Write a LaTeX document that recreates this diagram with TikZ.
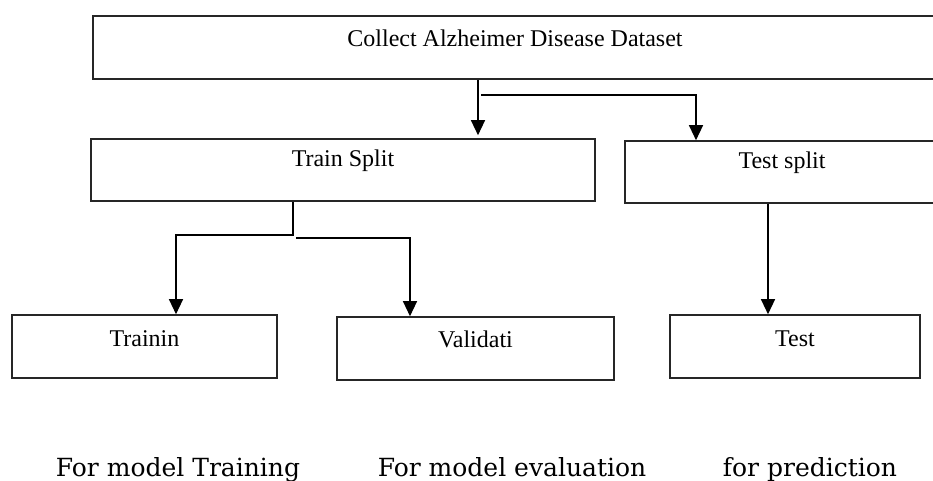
\documentclass[tikz,border=0pt]{standalone}
\usepackage{fontspec}
\setmainfont{Liberation Serif}
\newfontfamily\labelfont{DejaVu Serif}
\usetikzlibrary{arrows.meta}
\tikzset{
  boxnode/.style={draw=black!85, line width=1.6pt, inner sep=0pt, text height=16pt,
    font=\fontsize{24}{28}\selectfont},
  conn/.style={draw=black, line width=1.3pt},
  arr/.style={conn, -{Triangle[width=14pt,length=15pt]}},
  caption/.style={anchor=base, inner sep=0pt, font=\labelfont\fontsize{25}{29}\selectfont}
}
\begin{document}
\begin{tikzpicture}[x=1pt,y=-1pt]
\useasboundingbox (0,0) rectangle (933,481);
\clip (0,0) rectangle (933,481);
% boxes
\node[boxnode, minimum width=844pt, minimum height=63pt, text depth=17pt] (top) at (515,47.5) {Collect Alzheimer Disease Dataset};
\node[boxnode, minimum width=504pt, minimum height=62pt, text depth=22pt] (trainsplit) at (343,170) {Train Split};
\node[boxnode, minimum width=314pt, minimum height=62pt, text depth=24pt] (testsplit) at (782,172) {Test split};
\node[boxnode, minimum width=265pt, minimum height=63pt, text depth=17pt] (trainin) at (144.5,346.5) {Trainin};
\node[boxnode, minimum width=277pt, minimum height=63pt, text depth=19pt] (validati) at (475.5,348.5) {Validati};
\node[boxnode, minimum width=250pt, minimum height=63pt, text depth=17pt] (test) at (795,346.5) {Test};
% captions
\node[caption] (cap1) at (178,476) {For model Training};
\node[caption] (cap2) at (512,476) {For model evaluation};
\node[caption] (cap3) at (810,476) {for prediction};
% connector coordinates
\coordinate (c1) at (478,95);
\coordinate (c2) at (481,95);
\coordinate (c3) at (696,95);
\coordinate (s1) at (293,235);
\coordinate (s2) at (176,235);
\coordinate (s3) at (296,238);
\coordinate (s4) at (410,238);
\coordinate (t1) at (768,203);
% connectors
\draw[arr, shorten >=3pt] (top.south -| c1) -- (trainsplit.north -| c1);
\draw[arr] (c2) -- (c3) -- (testsplit.north -| c3);
\draw[arr] (trainsplit.south -| s1) -- (s1) -- (s2) -- (trainin.north -| s2);
\draw[arr] (s3) -- (s4) -- (validati.north -| s4);
\draw[arr] (testsplit.south -| t1) -- (test.north -| t1);
\end{tikzpicture}
\end{document}
